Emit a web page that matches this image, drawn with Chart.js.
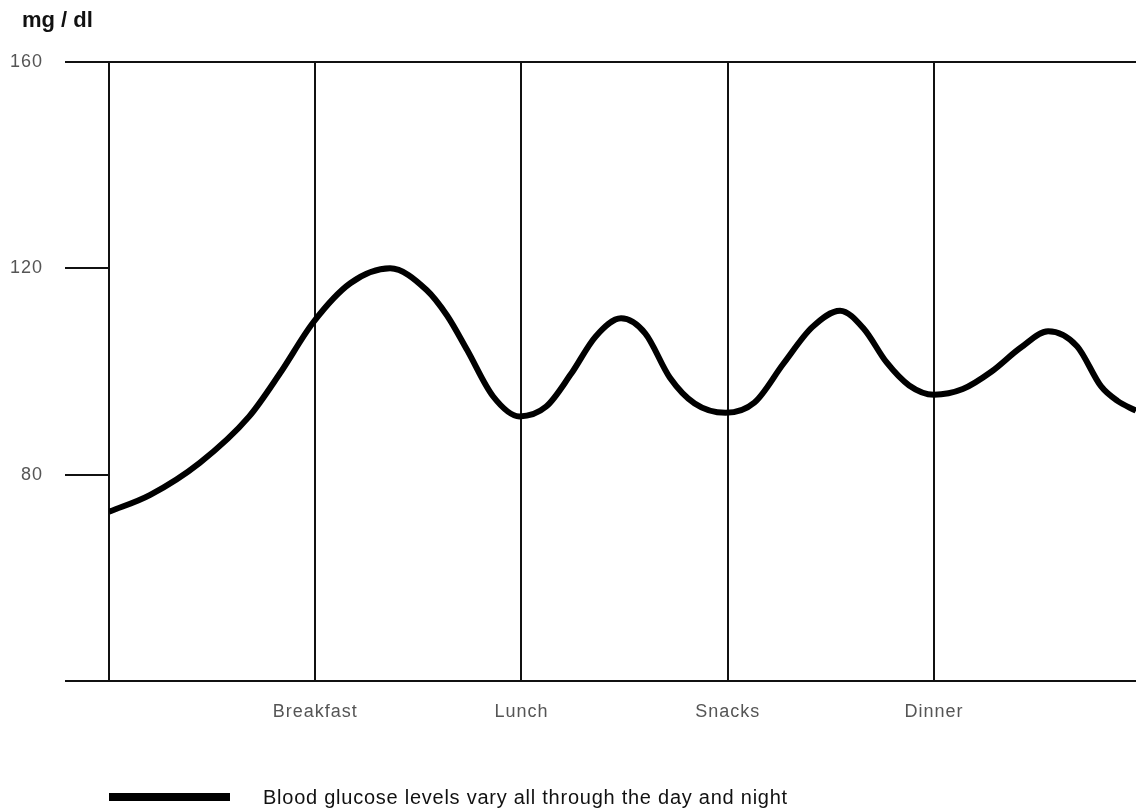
<!DOCTYPE html>
<html>
<head>
<meta charset="utf-8">
<script src="https://cdn.jsdelivr.net/npm/chart.js@4"></script>
<style>
    body { margin: 0; background: #fff; overflow: hidden; }
    #wrap { position: relative; width: 1136px; height: 808px; overflow: hidden; font-family: "Liberation Sans", Arial, sans-serif; }
    #unit { position: absolute; left: 22px; top: 7px; font-size: 22px; font-weight: bold; color: #111; }
    #legend { position: absolute; left: 109px; top: 784px; height: 26px; display: flex; align-items: center; }
    #legend .swatch { width: 121px; height: 8px; background: #000; margin-right: 33px; }
    #legend span { font-size: 20px; letter-spacing: 0.75px; color: #111; }
</style>
</head>
<body>
<div id="wrap">
    <canvas id="glucose-chart" width="1136" height="808"></canvas>
    <div id="unit">mg / dl</div>
    <div id="legend"><div class="swatch"></div><span id="legend-text"></span></div>
</div>
<script>
// time of day, in meal slots (0 = night start, 1 = breakfast ...)
const hours = [0, 0.2, 0.44, 0.68, 0.83, 0.99, 1.17, 1.363, 1.54, 1.64, 1.736, 1.862, 1.99, 2.12, 2.24, 2.36, 2.483, 2.6, 2.72, 2.84, 2.99, 3.13, 3.27, 3.41, 3.545, 3.66, 3.77, 3.88, 4.0, 4.14, 4.28, 4.42, 4.554, 4.694, 4.811, 4.89, 4.98];
const glucose = [72.8, 76.1, 82.3, 91.3, 99.7, 109.5, 117.1, 120.0, 115.8, 110.8, 104.2, 95.2, 91.3, 93.2, 99.5, 106.8, 110.3, 107.4, 98.8, 93.8, 92.0, 94.0, 101.5, 108.6, 111.8, 108.3, 101.8, 97.3, 95.5, 96.6, 100.0, 104.6, 107.8, 104.9, 97.1, 94.3, 92.4];
const meal_labels = ['', 'Breakfast', 'Lunch', 'Snacks', 'Dinner'];
const y_ticks = [40, 80, 120, 160];
const series_label = 'Blood glucose levels vary all through the day and night';

document.getElementById('legend-text').innerText = series_label;

const points = hours.map((h, i) => ({ x: h, y: glucose[i] }));

// the labels in the picture are a bit spread out
const spacing = {
    id: 'spacing',
    beforeDraw: chart => { chart.ctx.letterSpacing = '1px'; }
};

const ctx = document.getElementById('glucose-chart').getContext('2d');
const chart = new Chart(ctx, {
    type: 'line',
    data: {
        datasets: [{
            label: series_label,
            data: points,
            borderColor: '#000',
            borderWidth: 6,
            pointRadius: 0,
            cubicInterpolationMode: 'monotone',
            fill: false
        }]
    },
    options: {
        responsive: false,
        animation: false,
        layout: { padding: { top: 62, right: 0, left: 0, bottom: 0 } },
        plugins: {
            legend: { display: false },
            tooltip: { enabled: false }
        },
        scales: {
            x: {
                type: 'linear',
                min: 0,
                max: 4.98,   // the last slot runs a bit past the right edge
                afterBuildTicks: scale => { scale.ticks = meal_labels.map((l, i) => ({ value: i })); },
                afterFit: scale => {
                    scale.height = 127;
                    scale.paddingLeft = 0;
                    scale.paddingRight = 0;
                },
                border: { display: false },
                grid: {
                    drawTicks: false,
                    lineWidth: 2,
                    color: '#111'
                },
                ticks: {
                    padding: 20,
                    color: '#555',
                    font: { family: '"Liberation Sans", Arial, sans-serif', size: 18 },
                    callback: v => meal_labels[v]
                }
            },
            y: {
                min: 40,
                max: 160,
                afterBuildTicks: scale => { scale.ticks = y_ticks.map(v => ({ value: v })); },
                afterFit: scale => {
                    scale.width = 109;
                    scale.paddingTop = 0;
                    scale.paddingBottom = 0;
                },
                border: { display: false },
                grid: {
                    lineWidth: 2,
                    tickLength: 44,
                    tickColor: '#111',
                    color: c => (c.tick && (c.tick.value === 40 || c.tick.value === 160)) ? '#111' : 'rgba(0,0,0,0)'
                },
                ticks: {
                    padding: 22,
                    color: '#555',
                    font: { family: '"Liberation Sans", Arial, sans-serif', size: 18 },
                    callback: v => v === 40 ? '' : v
                }
            }
        }
    },
    plugins: [spacing]
});
</script>
</body>
</html>
